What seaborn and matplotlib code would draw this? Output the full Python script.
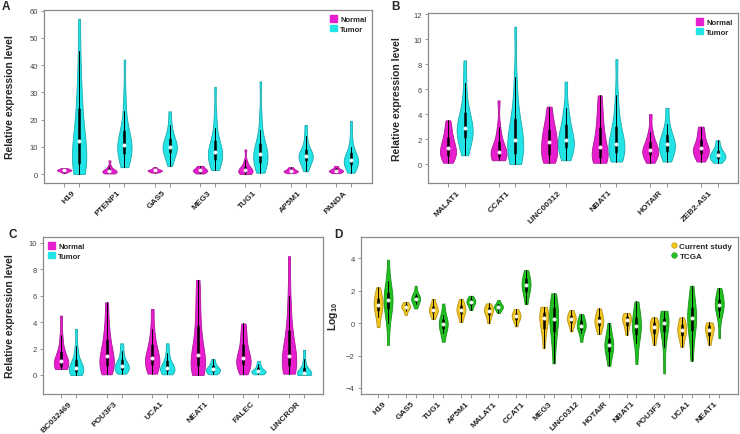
import numpy as np
import pandas as pd
import seaborn as sns
import matplotlib
matplotlib.use("Agg")
import matplotlib.pyplot as plt
import matplotlib.colors as mcolors
from matplotlib.patches import Patch
from matplotlib.lines import Line2D

# ---------------- data ----------------
A_genes = ["H19", "PTENP1", "GAS5", "MEG3", "TUG1", "AP5M1", "PANDA"]
A_normal = [
    [0.4, 0.8, 1.0, 1.2, 1.3, 1.4, 1.5, 1.6, 1.8, 2.0, 2.2],
    [0.2, 0.4, 0.6, 0.8, 1.0, 1.0, 1.2, 1.5, 2.0, 3.0, 5.0],
    [0.5, 0.8, 1.0, 1.2, 1.3, 1.4, 1.6, 1.9, 2.5],
    [0.2, 0.5, 0.9, 1.2, 1.4, 1.6, 2.0, 2.5, 3.0],
    [0.0, 0.2, 0.5, 0.8, 1.0, 1.2, 1.5, 2.0, 2.5, 3.5, 5.0, 9.0],
    [0.3, 0.6, 0.8, 1.0, 1.1, 1.3, 1.6, 2.0, 2.5],
    [0.3, 0.6, 0.9, 1.1, 1.2, 1.4, 1.7, 2.2, 3.0],
]
A_tumor = [
    [0, 0.5, 1, 2, 3, 5, 6, 8, 10, 12, 13, 15, 18, 22, 26, 30, 36, 45, 57],
    [2.5, 4, 6, 7, 8, 9, 10, 10.5, 11, 12, 14, 15, 18, 23, 30, 42],
    [3, 5, 7, 8, 9, 9.5, 10, 11, 12, 13, 15, 18, 23],
    [1.5, 3, 4, 5, 6, 7, 7.5, 8, 9, 10, 11, 13, 17, 22, 32],
    [0.5, 1.5, 3, 4, 5, 6, 7, 7.5, 8, 9, 10, 12, 16, 22, 34],
    [1, 2.5, 4, 5, 5.5, 6, 6.5, 7, 7.5, 8, 9, 11, 14, 18],
    [0.5, 1.5, 2.5, 3.5, 4, 4.5, 5, 5.5, 6, 7, 8, 10, 14, 19.5],
]

B_genes = ["MALAT1", "CCAT1", "LINC00312", "NBAT1", "HOTAIR", "ZEB2-AS1"]
B_normal = [
    [0.1, 0.3, 0.6, 0.8, 1.0, 1.2, 1.4, 1.7, 2.0, 2.4, 2.9, 3.5],
    [0.3, 0.4, 0.5, 0.7, 0.8, 0.9, 1.0, 1.3, 1.6, 2.2, 3.0, 5.1],
    [0.1, 0.3, 0.6, 1.0, 1.4, 1.8, 2.1, 2.5, 3.0, 3.6, 4.6],
    [0.1, 0.2, 0.4, 0.6, 0.9, 1.2, 1.6, 2.2, 2.7, 3.5, 4.4, 5.5],
    [0.1, 0.4, 0.7, 0.9, 1.0, 1.1, 1.3, 1.6, 2.0, 2.6, 4.0],
    [0.2, 0.5, 0.8, 1.0, 1.2, 1.3, 1.6, 2.0, 2.5, 3.0],
]
B_tumor = [
    [0.7, 1.2, 1.8, 2.1, 2.4, 2.6, 2.8, 3.0, 3.3, 3.7, 4.2, 5.0, 6.5, 8.3],
    [0.0, 0.2, 0.5, 0.8, 1.2, 1.6, 1.8, 2.1, 2.6, 3.0, 3.8, 5.0, 7.0, 11.0],
    [0.3, 0.7, 1.1, 1.4, 1.6, 1.8, 2.1, 2.5, 3.0, 3.6, 4.5, 6.6],
    [0.2, 0.5, 0.8, 1.0, 1.2, 1.4, 1.6, 2.0, 2.4, 3.0, 4.0, 5.5, 8.4],
    [0.2, 0.5, 0.9, 1.2, 1.4, 1.6, 1.8, 2.1, 2.5, 3.2, 4.5],
    [0.1, 0.3, 0.45, 0.55, 0.65, 0.75, 0.9, 1.1, 1.4, 1.9],
]

C_genes = ["BC032469", "POU3F3", "UCA1", "NEAT1", "FALEC", "LINCROR"]
C_normal = [
    [0.45, 0.5, 0.6, 0.7, 0.9, 1.0, 1.1, 1.3, 1.6, 2.2, 3.0, 4.5],
    [0.05, 0.3, 0.6, 0.9, 1.1, 1.4, 1.8, 2.3, 3.0, 4.0, 5.5],
    [0.1, 0.4, 0.7, 0.9, 1.1, 1.3, 1.6, 2.0, 2.6, 3.5, 5.0],
    [0.0, 0.2, 0.5, 0.8, 1.0, 1.3, 1.8, 2.5, 3.4, 4.5, 5.8, 7.2],
    [0.05, 0.4, 0.7, 0.9, 1.1, 1.3, 1.6, 2.0, 2.6, 3.2, 3.9],
    [0.1, 0.3, 0.6, 0.8, 1.0, 1.2, 1.6, 2.2, 3.0, 4.2, 6.0, 9.0],
]
C_tumor = [
    [0.0, 0.1, 0.2, 0.3, 0.4, 0.5, 0.6, 0.8, 1.0, 1.5, 2.2, 3.5],
    [0.1, 0.25, 0.4, 0.5, 0.6, 0.7, 0.8, 1.0, 1.3, 1.8, 2.4],
    [0.05, 0.15, 0.3, 0.4, 0.45, 0.55, 0.7, 0.9, 1.2, 1.7, 2.4],
    [0.05, 0.15, 0.25, 0.35, 0.4, 0.45, 0.55, 0.7, 0.9, 1.2],
    [0.05, 0.12, 0.18, 0.22, 0.25, 0.3, 0.35, 0.45, 0.6, 0.8, 1.05],
    [0.0, 0.02, 0.05, 0.08, 0.12, 0.18, 0.25, 0.4, 0.7, 1.2, 1.9],
]

D_genes = ["H19", "GAS5", "TUG1", "AP5M1", "MALAT1", "CCAT1", "MEG3",
           "LINC0312", "HOTAIR", "NBAT1", "POU3F3", "UCA1", "NEAT1"]
D_current = [
    [-0.25, 0.4, 0.8, 1.0, 1.13, 1.3, 1.5, 1.8, 2.2],
    [0.5, 0.75, 0.9, 0.95, 1.0, 1.05, 1.1, 1.2, 1.3],
    [0.25, 0.5, 0.65, 0.75, 0.8, 0.9, 1.0, 1.2, 1.48],
    [0.06, 0.4, 0.6, 0.75, 0.82, 0.9, 1.05, 1.25, 1.48],
    [0.0, 0.35, 0.55, 0.68, 0.76, 0.85, 0.95, 1.05, 1.21],
    [-0.2, 0.1, 0.25, 0.35, 0.41, 0.48, 0.58, 0.7, 0.86],
    [-1.54, -0.7, -0.3, 0.0, 0.29, 0.45, 0.6, 0.8, 1.0],
    [-0.51, -0.15, 0.05, 0.18, 0.25, 0.33, 0.45, 0.6, 0.8],
    [-0.68, -0.35, -0.15, 0.0, 0.12, 0.25, 0.4, 0.6, 0.9],
    [-0.72, -0.35, -0.1, 0.1, 0.2, 0.28, 0.38, 0.5, 0.62],
    [-1.35, -0.9, -0.6, -0.4, -0.27, -0.15, 0.0, 0.15, 0.35],
    [-1.46, -1.0, -0.75, -0.55, -0.43, -0.3, -0.1, 0.1, 0.35],
    [-1.34, -0.95, -0.75, -0.55, -0.43, -0.3, -0.2, -0.1, 0.04],
]
D_tcga = [
    [-1.35, 0.0, 0.8, 1.1, 1.3, 1.4, 1.5, 1.7, 2.0, 2.6, 3.9],
    [0.9, 1.2, 1.35, 1.45, 1.5, 1.55, 1.65, 1.8, 2.3],
    [-1.15, -0.6, -0.3, -0.15, -0.05, 0.05, 0.2, 0.5, 1.2],
    [0.8, 1.05, 1.2, 1.3, 1.33, 1.4, 1.5, 1.68],
    [0.63, 0.8, 0.9, 0.95, 1.0, 1.05, 1.1, 1.2, 1.42],
    [1.17, 1.7, 2.0, 2.2, 2.34, 2.5, 2.7, 2.9, 3.26],
    [-2.48, -1.2, -0.5, 0.0, 0.25, 0.5, 0.9, 1.2, 1.83],
    [-1.15, -0.6, -0.35, -0.25, -0.16, -0.05, 0.1, 0.3, 0.55],
    [-2.62, -2.0, -1.7, -1.5, -1.35, -1.2, -1.0, -0.6, 0.0],
    [-2.52, -1.2, -0.7, -0.4, -0.2, 0.0, 0.3, 0.7, 1.33],
    [-3.1, -1.5, -0.5, -0.2, 0.0, 0.1, 0.25, 0.45, 0.76],
    [-2.32, -1.0, -0.4, 0.1, 0.3, 0.5, 0.9, 1.4, 2.3],
    [-0.92, 0.4, 0.8, 1.0, 1.13, 1.25, 1.45, 1.7, 2.15],
]

hue_AC = ["Normal", "Tumor"]
hue_D = ["Current study", "TCGA"]
COL_N, COL_T = "#E61ECD", "#22E3E6"
COL_C, COL_G = "#F2C520", "#20C020"


def to_long(genes, s1, s2, hues):
    rows = []
    for g, a, b in zip(genes, s1, s2):
        rows += [(g, hues[0], v) for v in a]
        rows += [(g, hues[1], v) for v in b]
    return pd.DataFrame(rows, columns=["gene", "group", "value"])


sns.set_style("white")
plt.rcParams["font.family"] = ["Liberation Sans", "DejaVu Sans"]
plt.rcParams["mathtext.fontset"] = "custom"
plt.rcParams["mathtext.bf"] = "Liberation Sans:bold"
plt.rcParams["mathtext.rm"] = "Liberation Sans"

W, H = 740, 435
fig = plt.figure(figsize=(W / 100, H / 100), dpi=100)


def add_ax(l, r, t, b):
    return fig.add_axes([l / W, (H - b) / H, (r - l) / W, (b - t) / H])


def draw(ax, df, genes, colors, hues, ylim, yticks, xlim, width, ylabel, labx,
         bw=0.8, gap=0.04):
    sns.violinplot(data=df, x="gene", y="value", hue="group", order=genes,
                   hue_order=hues, palette=colors, ax=ax, cut=0,
                   density_norm="width", width=width, gap=gap, inner="box",
                   linewidth=0.6, linecolor="black", bw_adjust=bw,
                   inner_kws=dict(box_width=1.8, whis_width=0.7, marker="o"),
                   legend=False, saturation=1)
    for coll in ax.collections:
        fc = coll.get_facecolor()
        if len(fc):
            rgb = np.array(mcolors.to_rgb(fc[0]))
            coll.set_edgecolor(rgb * 0.75)
    for ln in ax.lines:
        if ln.get_marker() == "o":
            ln.set_markersize(2.4)
            ln.set_markeredgewidth(0.4)
    ax.set_ylim(*ylim)
    ax.set_yticks(yticks)
    ax.set_xlim(*xlim)
    n = len(genes)
    off = width / 4
    ax.set_xticks(np.arange(n))
    ax.set_xticklabels(genes, rotation=45, ha="right", rotation_mode="anchor",
                       fontsize=6, fontweight="bold")
    ax.set_xticks(np.concatenate([np.arange(n) - off, np.arange(n) + off]),
                  minor=True)
    ax.tick_params(axis="x", which="major", length=0, pad=4)
    ax.tick_params(axis="x", which="minor", length=3, width=0.6,
                   color="#888888", bottom=True)
    ax.tick_params(axis="y", length=2.5, width=0.6, color="#888888",
                   labelsize=5.5, labelcolor="#444444", pad=2, left=True)
    for s in ax.spines.values():
        s.set_color("#8a8a8a")
        s.set_linewidth(0.9)
    ax.set_xlabel("")
    ax.set_ylabel(ylabel, fontsize=7.5, fontweight="bold")
    ax.yaxis.set_label_coords(labx, 0.5)


# Panel A
axA = add_ax(44, 372, 11, 184)
draw(axA, to_long(A_genes, A_normal, A_tumor, hue_AC), A_genes, [COL_N, COL_T],
     hue_AC, (-3.3, 60.2), range(0, 61, 10), (-0.61, 6.63), 0.66,
     "Relative expression level", -0.088)

# Panel B
axB = add_ax(428, 738, 14, 184)
draw(axB, to_long(B_genes, B_normal, B_tumor, hue_AC), B_genes, [COL_N, COL_T],
     hue_AC, (-1.52, 12.1), range(0, 13, 2), (-0.56, 5.57), 0.66,
     "Relative expression level", -0.084)

# Panel C
axC = add_ax(43, 323, 238, 395)
draw(axC, to_long(C_genes, C_normal, C_tumor, hue_AC), C_genes, [COL_N, COL_T],
     hue_AC, (-1.44, 10.45), range(0, 11, 2), (-0.56, 5.58), 0.66,
     "Relative expression level", -0.1)

# Panel D
axD = add_ax(361, 738, 238, 395)
draw(axD, to_long(D_genes, D_current, D_tcga, hue_D), D_genes, [COL_C, COL_G],
     hue_D, (-4.37, 5.3), [-4, -2, 0, 2, 4], (-0.8, 12.86), 0.72,
     r"$\mathbf{Log_{10}}$", -0.056, bw=1.0, gap=0.1)


def sq_legend(ax, loc, anchor):
    h = [Patch(facecolor=COL_N, edgecolor=COL_N), Patch(facecolor=COL_T, edgecolor=COL_T)]
    ax.legend(h, hue_AC, loc=loc, bbox_to_anchor=anchor, frameon=False,
              prop=dict(size=5.5, weight="bold"), handlelength=0.9,
              handleheight=0.9, handletextpad=0.4, labelspacing=0.25,
              borderaxespad=0.3)


sq_legend(axA, "upper right", (1.0, 1.0))
sq_legend(axB, "upper right", (1.0, 1.0))
sq_legend(axC, "upper left", (0.0, 1.0))
hD = [Line2D([], [], ls="", marker="o", markersize=4, markerfacecolor=COL_C,
             markeredgecolor="#b8901a", markeredgewidth=0.4),
      Line2D([], [], ls="", marker="o", markersize=4, markerfacecolor=COL_G,
             markeredgecolor="#158a15", markeredgewidth=0.4)]
axD.legend(hD, hue_D, loc="upper right", frameon=False,
           prop=dict(size=5.8, weight="bold"), handlelength=0.8,
           handletextpad=0.3, labelspacing=0.2, borderaxespad=0.3)

for lab, (px, py) in zip("ABCD", [(6, 7), (395, 7), (13, 235), (338, 235)]):
    fig.text(px / W, 1 - py / H, lab, fontsize=8.5, fontweight="bold",
             ha="center", va="center")

fig.savefig("out.png", dpi=100)
